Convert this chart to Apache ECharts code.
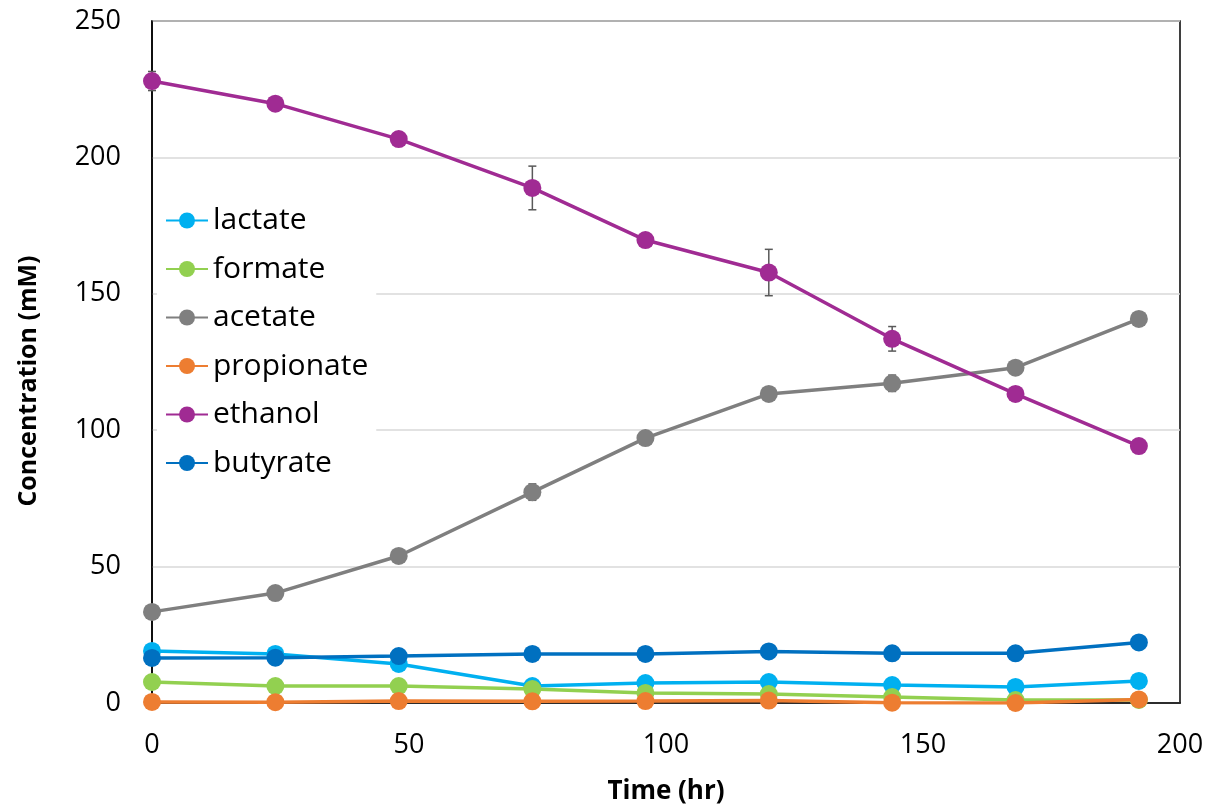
<!DOCTYPE html>
<html>
<head>
<meta charset="utf-8">
<script src="https://cdn.jsdelivr.net/npm/echarts@6/dist/echarts.min.js"></script>
<style>html,body{margin:0;padding:0;background:#fff;}#c{width:1213px;height:806px;}</style>
</head>
<body>
<div id="c"></div>
<script>
var time = [0, 24, 48, 74, 96, 120, 144, 168, 192];
var seriesNames = ['lactate', 'formate', 'acetate', 'propionate', 'ethanol', 'butyrate'];
var lactate    = [19.1, 18.0, 14.3, 6.2, 7.3, 7.7, 6.6, 5.9, 8.1];
var formate    = [7.7, 6.2, 6.2, 5.1, 3.7, 3.3, 2.2, 1.1, 1.1];
var acetate    = [33.4, 40.3, 53.9, 77.3, 97.1, 113.3, 117.2, 122.9, 140.8];
var propionate = [0.4, 0.3, 0.7, 0.6, 0.7, 0.9, 0.1, 0.0, 1.3];
var ethanol    = [228.0, 219.7, 206.7, 188.8, 169.7, 157.8, 133.5, 113.3, 94.2];
var butyrate   = [16.5, 16.6, 17.2, 18.0, 18.0, 18.9, 18.2, 18.2, 22.2];
var lactateErr    = [0.5, 0.5, 0.5, 1.5, 0.5, 1.0, 0.5, 0.5, 0.5];
var formateErr    = [0.8, 0.6, 0.5, 1.0, 0.5, 0.8, 1.0, 0.5, 0.3];
var acetateErr    = [1.0, 1.0, 1.0, 3.0, 1.0, 1.0, 3.0, 1.0, 1.0];
var propionateErr = [0.2, 0.2, 0.2, 0.2, 0.2, 0.2, 0.2, 0.2, 0.2];
var ethanolErr    = [3.5, 1.5, 2.0, 8.0, 1.5, 8.5, 4.5, 2.5, 1.0];
var butyrateErr   = [0.5, 0.5, 0.5, 0.5, 0.5, 0.5, 0.5, 0.5, 0.5];
var xTicks = [0, 50, 100, 150, 200];
var yTicks = [0, 50, 100, 150, 200, 250];

var values = [lactate, formate, acetate, propionate, ethanol, butyrate];
var errors = [lactateErr, formateErr, acetateErr, propionateErr, ethanolErr, butyrateErr];
var colors = ['#00B0F0', '#92D050', '#7F7F7F', '#ED7D31', '#A02B93', '#0070C0'];

var FONT = 'Open Sans';
var series = [];
values.forEach(function (vals, i) {
  var errData = time.map(function (t, k) { return [t, vals[k], errors[i][k]]; });
  series.push({
    type: 'custom',
    name: seriesNames[i] + '_err',
    z: 2 + i,
    silent: true,
    data: errData,
    renderItem: function (params, api) {
      var x = api.value(0), y = api.value(1), e = api.value(2);
      var top = api.coord([x, y + e]);
      var bot = api.coord([x, y - e]);
      var w = 4;
      var st = { stroke: '#595959', lineWidth: 1.5 };
      return {
        type: 'group',
        children: [
          { type: 'line', shape: { x1: top[0], y1: top[1], x2: bot[0], y2: bot[1] }, style: st },
          { type: 'line', shape: { x1: top[0] - w, y1: top[1], x2: top[0] + w, y2: top[1] }, style: st },
          { type: 'line', shape: { x1: bot[0] - w, y1: bot[1], x2: bot[0] + w, y2: bot[1] }, style: st }
        ]
      };
    }
  });
  series.push({
    type: 'line',
    name: seriesNames[i],
    z: 3 + i,
    data: time.map(function (t, k) { return [t, vals[k]]; }),
    symbol: 'circle',
    symbolSize: 18,
    lineStyle: { color: colors[i], width: 3.5 },
    itemStyle: { color: colors[i] },
    emphasis: { disabled: true },
    animation: false
  });
});

var chart = echarts.init(document.getElementById('c'));
chart.setOption({
  animation: false,
  backgroundColor: '#fff',
  grid: { left: 152, right: 33, top: 21, bottom: 103, show: true, borderColor: '#000', borderWidth: 1.5, backgroundColor: 'transparent' },
  xAxis: {
    type: 'value', min: 0, max: 200, interval: 50,
    axisLine: { show: true, lineStyle: { color: '#000', width: 1.5 } },
    axisTick: { show: false },
    splitLine: { show: false },
    axisLabel: { color: '#000', fontSize: 27, fontFamily: FONT, margin: 29,
      formatter: function (v) { return xTicks.indexOf(v) >= 0 ? String(v) : ''; } }
  },
  yAxis: {
    type: 'value', min: 0, max: 250, interval: 50,
    axisLine: { show: true, lineStyle: { color: '#000', width: 1.5 } },
    axisTick: { show: false },
    splitLine: { show: true, lineStyle: { color: '#D9D9D9', width: 1.5 } },
    axisLabel: { color: '#000', fontSize: 27, fontFamily: FONT, margin: 31,
      formatter: function (v) { return yTicks.indexOf(v) >= 0 ? String(v) : ''; } }
  },
  legend: {
    data: seriesNames,
    orient: 'vertical',
    left: 157, top: 199,
    backgroundColor: '#fff',
    padding: [6, 8, 6, 8],
    itemWidth: 42, itemHeight: 20, itemGap: 17.5,
    textStyle: { color: '#000', fontSize: 30, fontFamily: FONT, lineHeight: 31 },
    selectedMode: false
  },
  graphic: [
    { type: 'text', x: 666, y: 792, style: { text: 'Time (hr)', fill: '#000', font: 'bold 26px "Open Sans"', align: 'center', verticalAlign: 'middle' } },
    { type: 'text', x: 29, y: 381, rotation: Math.PI / 2, style: { text: 'Concentration (mM)', fill: '#000', font: 'bold 25px "Open Sans"', align: 'center', verticalAlign: 'middle' } }
  ],
  series: series
});
</script>
</body>
</html>
